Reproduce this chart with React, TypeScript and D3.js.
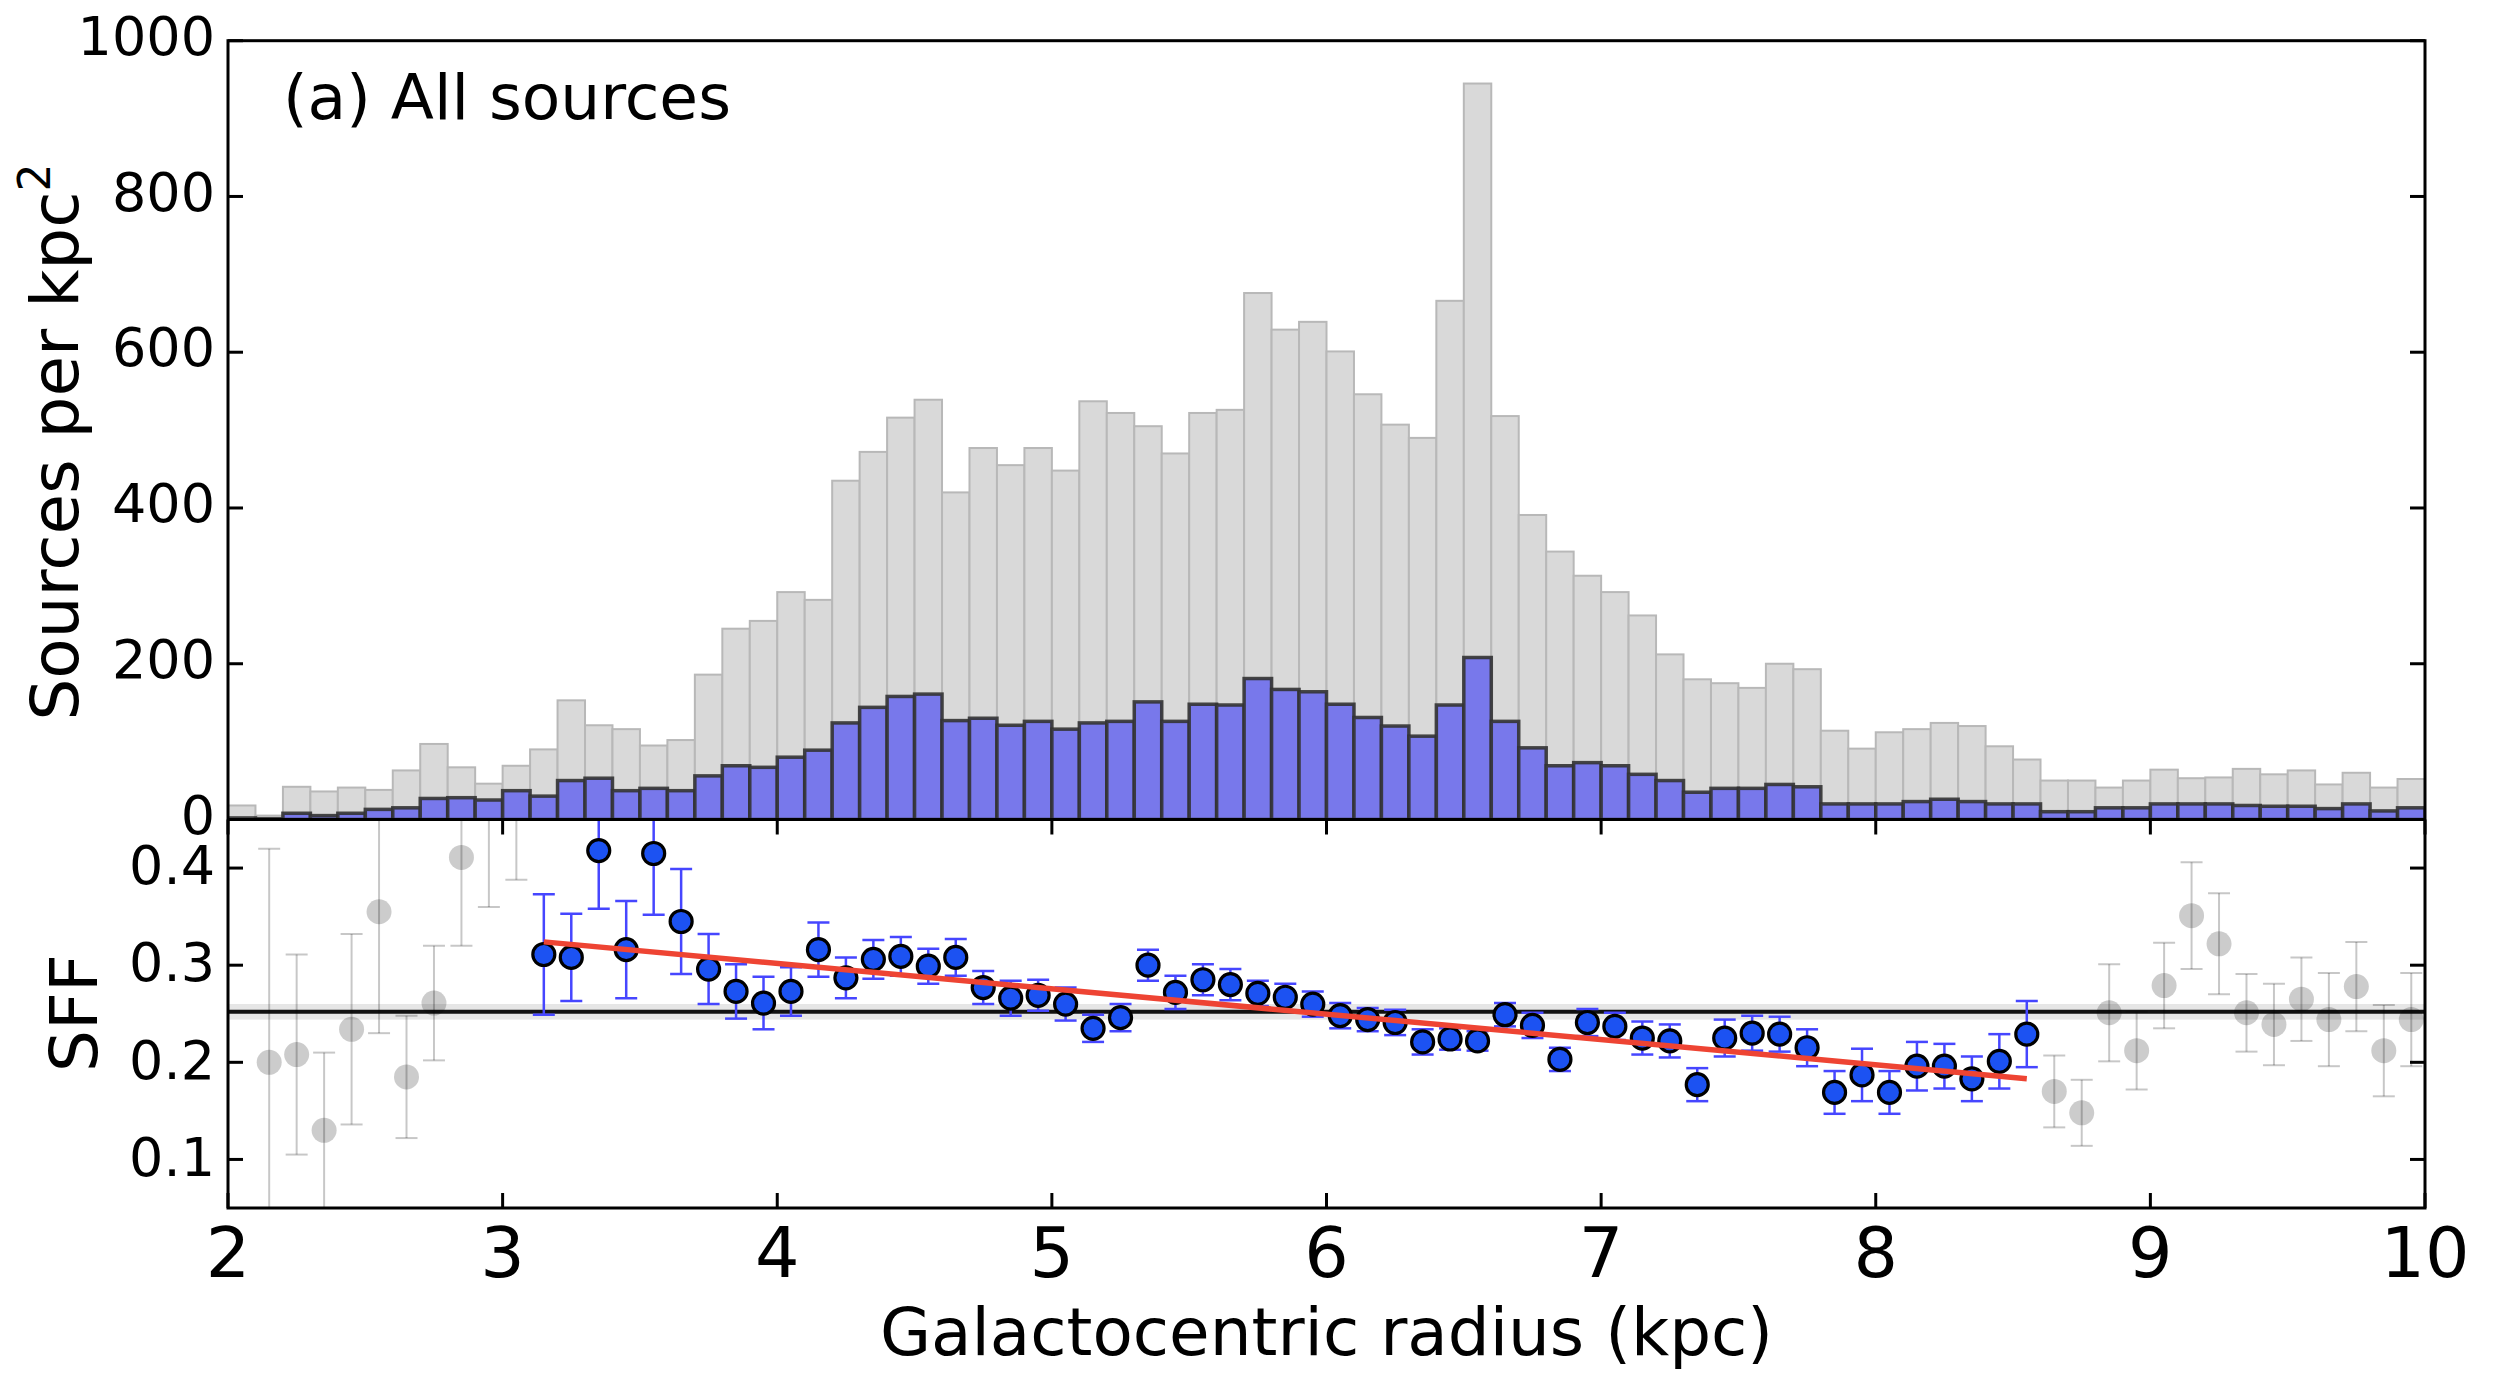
import React from 'react';
import * as d3 from 'd3';

// ---------- data ----------
const binWidth = 0.1;
const binEdges: number[] = d3.range(80).map((i) => +(2 + i * binWidth).toFixed(2));

// Sources per kpc^2, all sources (grey histogram)
const allSources = [
  18, 5, 42, 36, 41, 38, 63, 97, 67, 46,
  69, 90, 153, 121, 116, 95, 102, 186, 245, 255,
  292, 282, 435, 472, 516, 539, 420, 477, 455, 477,
  448, 537, 522, 505, 470, 522, 526, 676, 629, 639,
  601, 546, 507, 490, 666, 945, 518, 391, 344, 313,
  292, 262, 212, 180, 175, 169, 200, 193, 114, 91,
  112, 116, 124, 120, 94, 77, 50, 50, 41, 50,
  64, 53, 54, 65, 58, 63, 45, 60, 41, 52,
];

// Star-forming sources per kpc^2 (blue histogram)
const sfSources = [
  2, 1, 8, 5, 8, 13, 15, 27, 28, 25,
  37, 30, 50, 53, 37, 40, 37, 56, 69, 67,
  80, 89, 124, 144, 158, 161, 127, 130, 121, 126,
  116, 124, 126, 151, 126, 148, 147, 181, 167, 164,
  148, 131, 120, 107, 147, 208, 126, 92, 69, 73,
  69, 58, 50, 35, 40, 40, 45, 42, 20, 20,
  20, 23, 26, 23, 20, 20, 10, 10, 15, 15,
  20, 20, 20, 18, 17, 17, 14, 20, 11, 15,
];

// SFF points (bin centres 2.15 ... 9.95)
const sffRadius: number[] = binEdges.slice(1).map((e) => +(e + binWidth / 2).toFixed(2));
const sffValue = [
  0.200, 0.208, 0.130, 0.234, 0.355, 0.185, 0.261, 0.411, 0.540,
  0.530, 0.311, 0.308, 0.418, 0.316, 0.415, 0.345, 0.296, 0.273, 0.261,
  0.273, 0.316, 0.287, 0.306, 0.309, 0.299, 0.308, 0.277, 0.266, 0.269,
  0.260, 0.235, 0.246, 0.300, 0.272, 0.285, 0.280, 0.271, 0.267, 0.260,
  0.248, 0.244, 0.241, 0.221, 0.224, 0.222, 0.249, 0.238, 0.203, 0.241,
  0.237, 0.225, 0.222, 0.177, 0.225, 0.230, 0.229, 0.215, 0.169, 0.187,
  0.169, 0.196, 0.196, 0.183, 0.201, 0.229, 0.170, 0.148, 0.251, 0.212,
  0.279, 0.351, 0.322, 0.251, 0.239, 0.265, 0.244, 0.278, 0.212, 0.244,
];
const sffError = [
  0.220, 0.103, 0.080, 0.098, 0.125, 0.063, 0.059, 0.091, 0.180,
  0.142, 0.062, 0.045, 0.060, 0.050, 0.063, 0.054, 0.036, 0.028, 0.027,
  0.025, 0.028, 0.021, 0.020, 0.020, 0.018, 0.019, 0.017, 0.018, 0.016,
  0.017, 0.014, 0.014, 0.016, 0.017, 0.016, 0.016, 0.013, 0.014, 0.013,
  0.013, 0.012, 0.013, 0.013, 0.011, 0.010, 0.012, 0.013, 0.012, 0.014,
  0.014, 0.017, 0.017, 0.017, 0.019, 0.018, 0.018, 0.019, 0.022, 0.027,
  0.022, 0.025, 0.023, 0.023, 0.028, 0.034, 0.037, 0.034, 0.050, 0.040,
  0.044, 0.055, 0.052, 0.040, 0.042, 0.043, 0.048, 0.046, 0.047, 0.048,
];

// fitted range and linear fit
const fitRange = [3.1, 8.6];
const fitRadius = [3.15, 8.55];
const fitSFF = [0.324, 0.183];
const meanSFF = 0.252;
const meanSFFErr = 0.008;

const xTicks = [2, 3, 4, 5, 6, 7, 8, 9, 10];
const topTicks = [0, 200, 400, 600, 800, 1000];
const sffTicks = [0.1, 0.2, 0.3, 0.4];

// ---------- layout ----------
const W = 2498;
const H = 1373;
const L = 228;
const R = 2425;
const TOP = 40.7;
const MID = 819.5;
const BOT = 1208;
const FONT = '"DejaVu Sans", Verdana, sans-serif';

export default function App() {
  const x = d3.scaleLinear().domain([2, 10]).range([L, R]);
  const yTop = d3.scaleLinear().domain([0, 1000]).range([MID, TOP]);
  const yBot = d3.scaleLinear().domain([0.05, 0.45]).range([BOT, MID]);

  const fitLine = d3
    .line<number>()
    .x((d, i) => x(fitRadius[i]))
    .y((d) => yBot(d));

  const tickLen = 15;
  const capHalf = 11;

  const points = sffRadius.map((r, i) => ({
    r,
    v: sffValue[i],
    e: sffError[i],
    fit: r > fitRange[0] && r < fitRange[1],
  }));
  const greyPts = points.filter((p) => !p.fit);
  const bluePts = points.filter((p) => p.fit);

  const errBar = (p: any, color: string, opacity: number, width: number, key: string) => (
    <g key={key} stroke={color} strokeOpacity={opacity} strokeWidth={width}>
      <line x1={x(p.r)} x2={x(p.r)} y1={yBot(p.v - p.e)} y2={yBot(p.v + p.e)} />
      <line x1={x(p.r) - capHalf} x2={x(p.r) + capHalf} y1={yBot(p.v - p.e)} y2={yBot(p.v - p.e)} />
      <line x1={x(p.r) - capHalf} x2={x(p.r) + capHalf} y1={yBot(p.v + p.e)} y2={yBot(p.v + p.e)} />
    </g>
  );

  return (
    <svg
      width={W}
      height={H}
      viewBox={`0 0 ${W} ${H}`}
      style={{ position: 'absolute', left: 0, top: 0, background: '#fff' }}
      fontFamily={FONT}
    >
      <defs>
        <clipPath id="clipTop">
          <rect x={L} y={TOP} width={R - L} height={MID - TOP} />
        </clipPath>
        <clipPath id="clipBot">
          <rect x={L} y={MID} width={R - L} height={BOT - MID} />
        </clipPath>
      </defs>
      <rect x={0} y={0} width={W} height={H} fill="#fff" />

      {/* ---------- top panel: histograms ---------- */}
      <g clipPath="url(#clipTop)">
        {binEdges.map((e, i) => (
          <rect
            key={'g' + i}
            x={x(e)}
            y={yTop(allSources[i])}
            width={x(e + binWidth) - x(e)}
            height={yTop(0) - yTop(allSources[i])}
            fill="#d9d9d9"
            stroke="#b8b8b8"
            strokeWidth={2}
          />
        ))}
        {binEdges.map((e, i) => (
          <rect
            key={'b' + i}
            x={x(e)}
            y={yTop(sfSources[i])}
            width={x(e + binWidth) - x(e)}
            height={yTop(0) - yTop(sfSources[i])}
            fill="#7878eb"
            stroke="#333333"
            strokeOpacity={0.9}
            strokeWidth={3.5}
          />
        ))}
      </g>
      <text x={283} y={119} fontSize={63} fill="#000">(a) All sources</text>

      {/* ---------- bottom panel: SFF ---------- */}
      <g clipPath="url(#clipBot)">
        <rect
          x={L}
          y={yBot(meanSFF + meanSFFErr)}
          width={R - L}
          height={yBot(meanSFF - meanSFFErr) - yBot(meanSFF + meanSFFErr)}
          fill="#e6e6e6"
        />
        <line x1={L} x2={R} y1={yBot(meanSFF)} y2={yBot(meanSFF)} stroke="#111" strokeWidth={4} />
        {greyPts.map((p, i) => errBar(p, '#000', 0.22, 2, 'ge' + i))}
        {greyPts.map((p, i) => (
          <circle key={'gp' + i} cx={x(p.r)} cy={yBot(p.v)} r={12.5} fill="#000" fillOpacity={0.2} />
        ))}
        {bluePts.map((p, i) => errBar(p, '#4646ff', 1, 2.5, 'be' + i))}
        {bluePts.map((p, i) => (
          <circle
            key={'bp' + i}
            cx={x(p.r)}
            cy={yBot(p.v)}
            r={11}
            fill="#1c52f2"
            stroke="#000"
            strokeWidth={3.2}
          />
        ))}
        <path d={fitLine(fitSFF) || ''} fill="none" stroke="#ee4433" strokeWidth={5.5} />
      </g>

      {/* ---------- axes ---------- */}
      <g stroke="#000" strokeWidth={3} fill="none">
        <rect x={L} y={TOP} width={R - L} height={BOT - TOP} />
        <line x1={L} x2={R} y1={MID} y2={MID} />
        {topTicks.map((t) => (
          <g key={'tt' + t}>
            <line x1={L} x2={L + tickLen} y1={yTop(t)} y2={yTop(t)} />
            <line x1={R - tickLen} x2={R} y1={yTop(t)} y2={yTop(t)} />
          </g>
        ))}
        {sffTicks.map((t) => (
          <g key={'st' + t}>
            <line x1={L} x2={L + tickLen} y1={yBot(t)} y2={yBot(t)} />
            <line x1={R - tickLen} x2={R} y1={yBot(t)} y2={yBot(t)} />
          </g>
        ))}
        {xTicks.map((t) => (
          <g key={'xt' + t}>
            <line x1={x(t)} x2={x(t)} y1={BOT} y2={BOT - tickLen} />
            <line x1={x(t)} x2={x(t)} y1={MID} y2={MID + tickLen} />
          </g>
        ))}
      </g>

      {/* tick labels */}
      {topTicks.map((t) => (
        <text key={'tl' + t} x={L - 13} y={yTop(t)} dy="0.26em" textAnchor="end" fontSize={54}>
          {t}
        </text>
      ))}
      {sffTicks.map((t) => (
        <text key={'sl' + t} x={L - 13} y={yBot(t)} dy="0.3em" textAnchor="end" fontSize={54}>
          {t.toFixed(1)}
        </text>
      ))}
      {xTicks.map((t) => (
        <text key={'xl' + t} x={x(t)} y={1277} textAnchor="middle" fontSize={70}>
          {t}
        </text>
      ))}

      {/* axis labels */}
      <text x={(L + R) / 2} y={1355} textAnchor="middle" fontSize={66}>
        Galactocentric radius (kpc)
      </text>
      <text transform={`translate(78, 442) rotate(-90)`} textAnchor="middle" fontSize={66}>
        Sources per kpc
        <tspan fontSize={44} dy={-28}>2</tspan>
      </text>
      <text transform={`translate(97, 1013) rotate(-90)`} textAnchor="middle" fontSize={66}>
        SFF
      </text>
    </svg>
  );
}
